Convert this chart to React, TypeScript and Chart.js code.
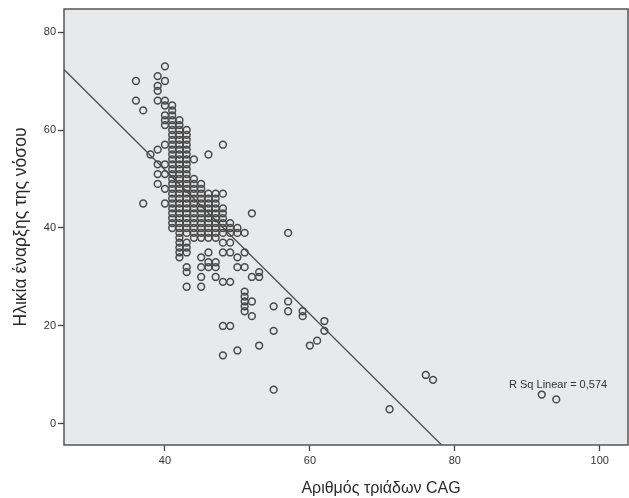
import React, { useEffect, useRef } from "react";
import { Chart, registerables } from "chart.js";

Chart.register(...registerables);

// Axis ranges and tick labels
const X_MIN = 26.07;
const X_MAX = 103.9;
const Y_MIN = -4.3;
const Y_MAX = 84.7;
const X_TICKS = [40, 60, 80, 100];
const Y_TICKS = [0, 20, 40, 60, 80];

const X_TITLE = "Αριθμός τριάδων CAG";
const Y_TITLE = "Ηλικία έναρξης της νόσου";
const R_SQ_LABEL = "R Sq Linear = 0,574";

// CAG repeat counts and the ages at onset observed for each count
const CAG_VALUES = [36, 37, 38, 39, 40, 41, 42, 43, 44, 45, 46, 47, 48, 49, 50, 51, 52, 53, 55, 57, 59, 60, 61, 62, 71, 76, 77, 92, 94];
const ONSET_AGES: number[][] = [
  [70, 66],
  [64, 45],
  [55],
  [71, 69, 68, 66, 56, 53, 51, 49],
  [73, 70, 66, 65, 63, 62, 61, 57, 53, 51, 48, 45],
  [65, 64, 63, 62, 61, 60, 59, 58, 57, 56, 55, 54, 53, 52, 51, 50, 49, 48, 47, 46, 45, 44, 43, 42, 41, 40],
  [62, 61, 60, 59, 58, 57, 56, 55, 54, 53, 52, 51, 50, 49, 48, 47, 46, 45, 44, 43, 42, 41, 40, 39, 38, 37, 36, 35, 34],
  [60, 59, 58, 57, 56, 55, 54, 53, 52, 51, 50, 49, 48, 47, 46, 45, 44, 43, 42, 41, 40, 39, 37, 36, 35, 32, 31, 28],
  [54, 50, 49, 48, 47, 46, 45, 44, 43, 42, 41, 40, 39, 38],
  [49, 48, 47, 46, 45, 44, 43, 42, 41, 40, 39, 38, 34, 32, 30, 28],
  [55, 47, 46, 45, 44, 43, 42, 41, 40, 39, 38, 35, 33, 32],
  [47, 46, 45, 44, 43, 42, 41, 40, 39, 38, 33, 32, 30],
  [57, 47, 44, 43, 42, 41, 40, 39, 37, 35, 29, 20, 14],
  [41, 40, 39, 37, 35, 29, 20],
  [40, 39, 34, 32, 15],
  [39, 35, 32, 27, 26, 25, 24, 23],
  [43, 30, 25, 22],
  [31, 30, 16],
  [24, 19, 7],
  [39, 25, 23],
  [23, 22],
  [16],
  [17],
  [21, 19],
  [3],
  [10],
  [9],
  [6],
  [5],
];

// Linear fit line end points (x, y)
const FIT_X = [26.07, 78.18];
const FIT_Y = [72.35, -4.3];

const FONT = "'Liberation Sans', Arial, sans-serif";

export default function App() {
  const canvasRef = useRef<HTMLCanvasElement | null>(null);

  useEffect(() => {
    const canvas = canvasRef.current;
    if (!canvas) return;

    const points = CAG_VALUES.flatMap((c, i) => ONSET_AGES[i].map((a) => ({ x: c, y: a })));
    const fit = FIT_X.map((x, i) => ({ x, y: FIT_Y[i] }));

    const framePlugin = {
      id: "spssFrame",
      beforeDraw(chart: any) {
        const { ctx, chartArea: a, width, height } = chart;
        ctx.save();
        ctx.fillStyle = "#ffffff";
        ctx.fillRect(0, 0, width, height);
        ctx.fillStyle = "#e8e9eb";
        ctx.fillRect(a.left, a.top, a.right - a.left, a.bottom - a.top);
        ctx.restore();
      },
      afterDraw(chart: any) {
        const { ctx, chartArea: a } = chart;
        ctx.save();
        ctx.strokeStyle = "#555555";
        ctx.lineWidth = 1.5;
        ctx.strokeRect(a.left, a.top, a.right - a.left, a.bottom - a.top);
        ctx.fillStyle = "#333333";
        ctx.font = `11px ${FONT}`;
        ctx.textAlign = "left";
        ctx.textBaseline = "middle";
        ctx.fillText(R_SQ_LABEL, 509, 385);
        ctx.fillStyle = "#2a2a2a";
        ctx.font = `16px ${FONT}`;
        ctx.textAlign = "center";
        ctx.fillText(X_TITLE, 381, 489);
        ctx.restore();
      },
    };

    const chart = new Chart(canvas, {
      type: "scatter",
      data: {
        datasets: [
          {
            label: "points",
            data: points,
            pointStyle: "circle",
            pointRadius: 3.4,
            pointBorderWidth: 1.5,
            pointBorderColor: "#484848",
            pointBackgroundColor: "rgba(0,0,0,0)",
            showLine: false,
          },
          {
            label: "fit",
            data: fit,
            showLine: true,
            pointRadius: 0,
            borderColor: "#4d4d4d",
            borderWidth: 1.3,
            fill: false,
          },
        ],
      },
      options: {
        animation: false,
        responsive: false,
        maintainAspectRatio: false,
        devicePixelRatio: 1,
        layout: { autoPadding: false, padding: { top: 9, right: 1, left: 0, bottom: 0 } },
        plugins: {
          legend: { display: false },
          tooltip: { enabled: false },
        },
        scales: {
          x: {
            type: "linear",
            min: X_MIN,
            max: X_MAX,
            afterBuildTicks: (s: any) => {
              s.ticks = X_TICKS.map((v) => ({ value: v }));
            },
            afterFit: (s: any) => {
              s.height = 53;
              s.paddingLeft = 0;
              s.paddingRight = 0;
            },
            grid: { drawOnChartArea: false, drawTicks: true, tickLength: 6, tickColor: "#444", tickWidth: 1.3, color: "#444" },
            border: { display: false },
            ticks: { padding: 3, maxRotation: 0, autoSkip: false, color: "#333", font: { family: FONT, size: 11 } },
            title: { display: false },
          },
          y: {
            type: "linear",
            min: Y_MIN,
            max: Y_MAX,
            afterBuildTicks: (s: any) => {
              s.ticks = Y_TICKS.map((v) => ({ value: v }));
            },
            afterFit: (s: any) => {
              s.width = 64;
              s.paddingTop = 0;
              s.paddingBottom = 0;
            },
            grid: { drawOnChartArea: false, drawTicks: true, tickLength: 6, tickColor: "#444", tickWidth: 1.3, color: "#444" },
            border: { display: false },
            ticks: { padding: 2, autoSkip: false, color: "#333", font: { family: FONT, size: 11 } },
            title: {
              display: true,
              text: Y_TITLE,
              color: "#2a2a2a",
              font: { family: FONT, size: 17.5 },
              padding: { top: 11, bottom: 0 },
            },
          },
        },
      },
      plugins: [framePlugin],
    } as any);

    return () => chart.destroy();
  }, []);

  return (
    <div style={{ position: "absolute", left: 0, top: 0, width: 629, height: 498, background: "#fff" }}>
      <canvas ref={canvasRef} width={629} height={498} style={{ display: "block", width: 629, height: 498 }} />
    </div>
  );
}
